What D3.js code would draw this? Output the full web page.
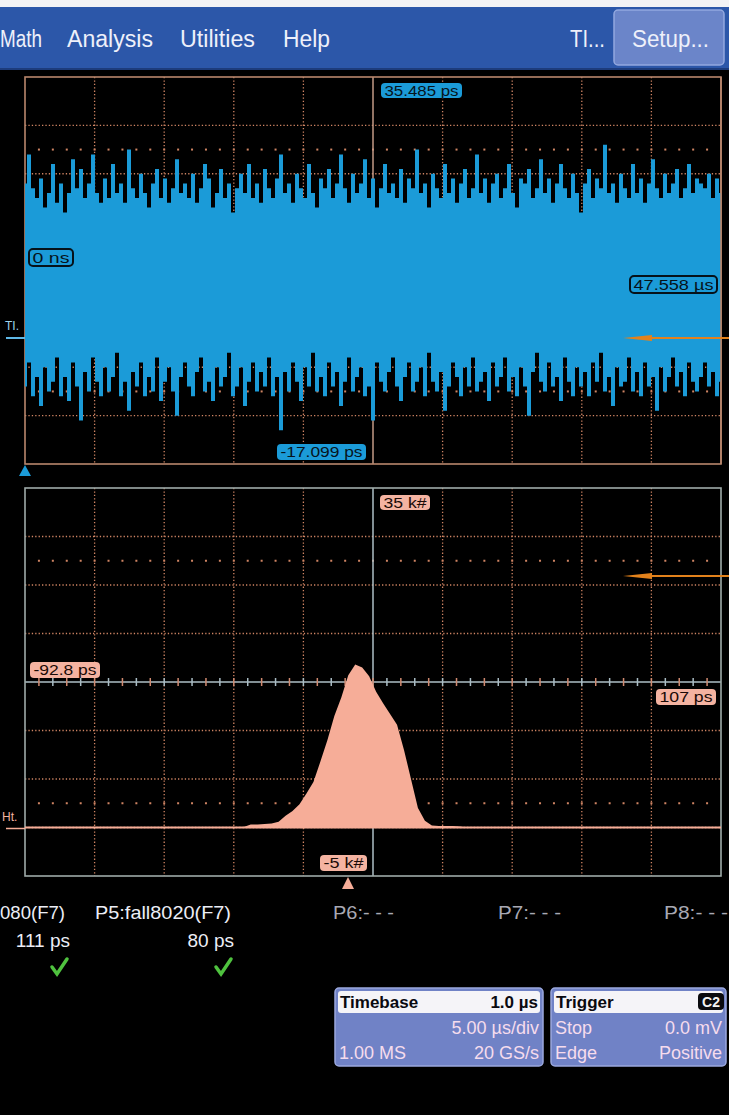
<!DOCTYPE html>
<html><head><meta charset="utf-8">
<script src="https://cdn.jsdelivr.net/npm/d3@7"></script>
<style>html,body{margin:0;padding:0;background:#000;overflow:hidden}svg{display:block}</style>
</head><body>
<svg id="c" width="729" height="1115"></svg>
<script>
// ---------- data ----------
const menuLabels = ["Math", "Analysis", "Utilities", "Help"];
const menuRight = ["TI...", "Setup..."];

// TIE track trace (units: 1/10 division), sampled across 10 divisions (5 µs/div)
const traceTop = [
 18,24,17,15,19,13,16,22,14,18, 12,16,23,17,21,15,18,24,16,14,
 19,15,22,16,18,14,25,17,15,20, 16,13,18,21,15,19,14,17,23,16,
 18,15,20,14,17,22,19,13,16,21, 15,18,12,17,20,16,22,15,18,14,
 21,17,15,19,24,16,18,14,20,17, 15,22,16,13,19,17,21,15,18,24,
 17,14,20,16,18,23,15,19,13,17, 22,16,18,15,21,14,19,17,25,16,
 18,13,20,17,15,22,16,19,14,18, 21,15,17,24,16,19,14,18,20,15,
 17,22,16,13,19,18,21,15,17,23, 16,19,14,18,22,17,15,20,16,12,
 18,21,15,19,17,26,16,18,14,20, 17,15,22,16,19,14,18,23,17,15,
 20,16,18,21,15,17,22,16,19,18, 17,20,15,19,16];
const traceBottom = [
 -24,-19,-26,-22,-28,-20,-25,-23,-18,-26, -22,-27,-19,-24,-31,-21,-25,-18,-23,-26,
 -20,-25,-22,-17,-26,-23,-29,-21,-24,-19, -26,-22,-25,-18,-27,-23,-20,-25,-30,-22,
 -19,-24,-26,-21,-18,-25,-23,-27,-20,-24, -22,-17,-26,-24,-20,-28,-23,-19,-25,-21,
 -24,-18,-26,-22,-33,-21,-25,-19,-23,-27, -20,-24,-17,-25,-22,-26,-19,-24,-21,-28,
 -23,-18,-25,-22,-20,-26,-24,-31,-19,-23, -25,-21,-18,-24,-27,-22,-19,-25,-23,-20,
 -26,-17,-23,-25,-21,-29,-24,-19,-22,-26, -20,-24,-18,-25,-23,-21,-27,-19,-24,-22,
 -18,-25,-22,-26,-20,-24,-30,-21,-17,-23, -25,-19,-24,-22,-27,-18,-23,-26,-20,-24,
 -21,-26,-19,-23,-17,-25,-22,-28,-20,-24, -23,-18,-25,-21,-26,-19,-24,-22,-29,-20,
 -25,-22,-18,-24,-21,-26,-19,-23,-25,-22, -19,-24,-21,-26,-23];

// histogram of TIE (bin centre in ps, count in k#)
const histPs    = [-32,-30,-28,-26,-24,-22,-20,-18,-16,-14,-12,-10,-8,-6,-4,-2,0,2,4,6,8,10,12,14,16,18,20,22,24,26,28,30,32,34];
const histCount = [0,0.05,0.3,0.3,0.35,0.4,0.6,1.2,1.7,2.4,3.5,4.7,6.8,9.0,11.5,13.4,15.7,16.8,16.5,15.6,14.0,12.8,11.7,10.6,8.0,5.0,2.0,0.7,0.2,0.15,0.15,0.15,0.1,0];

const topLabels = {upper: "35.485 ps", lower: "-17.099 ps", offset: "0 ns", delay: "47.558 µs", trace: "TI."};
const histLabels = {upper: "35 k#", lower: "-5 k#", left: "-92.8 ps", right: "107 ps", trace: "Ht."};

const measNames  = ["080(F7)", "P5:fall8020(F7)", "P6:- - -", "P7:- - -", "P8:- - -"];
const measValues = ["111 ps", "80 ps"];

const timebase = ["Timebase", "1.0 µs", "5.00 µs/div", "1.00 MS", "20 GS/s"];
const trigger  = ["Trigger", "C2", "Stop", "0.0 mV", "Edge", "Positive"];

// ---------- drawing ----------
const svg = d3.select("#c");
const F = "'Liberation Sans', Arial, sans-serif";
const BLUE = "#1b9bd8", PEACH = "#f6ad98", DOT = "#cf8463";

svg.append("rect").attr("width",729).attr("height",1115).attr("fill","#000");

// top white strip + menu bar
svg.append("rect").attr("x",0).attr("y",0).attr("width",729).attr("height",7).attr("fill","#f3f3f5");
svg.append("rect").attr("x",0).attr("y",7).attr("width",729).attr("height",63).attr("fill","#2c57a9");
svg.append("rect").attr("x",0).attr("y",68).attr("width",729).attr("height",2).attr("fill","#1d3c7c");
svg.append("rect").attr("x",614).attr("y",10).attr("width",110).attr("height",55).attr("rx",4)
  .attr("fill","#6b85c9").attr("stroke","#93a8df").attr("stroke-width",1.5);

const menuPos = [[0,42],[67,86],[180,75],[283,47]];
menuLabels.forEach((t,i)=>{
  svg.append("text").attr("x",menuPos[i][0]).attr("y",47).attr("textLength",menuPos[i][1])
    .attr("lengthAdjust","spacingAndGlyphs").attr("font-family",F).attr("font-size",23)
    .attr("fill","#eef0fa").text(t);
});
svg.append("text").attr("x",570).attr("y",47).attr("textLength",35).attr("lengthAdjust","spacingAndGlyphs")
  .attr("font-family",F).attr("font-size",23).attr("fill","#eef0fa").text(menuRight[0]);
svg.append("text").attr("x",632).attr("y",47).attr("textLength",77).attr("lengthAdjust","spacingAndGlyphs")
  .attr("font-family",F).attr("font-size",23).attr("fill","#eef0fa").text(menuRight[1]);

// ---------- common grid ----------
function grid(g, x, y, frameColor, centerColor, sparseVals, tickCenter) {
  const [x0,x1] = x.range(), [yb,yt] = y.range();
  const xd = x.domain(), yd = y.domain();
  const xs = d3.range(11).map(k => xd[0] + k*(xd[1]-xd[0])/10);
  const ys = d3.range(9).map(k => yd[0] + k*(yd[1]-yd[0])/8);
  const xc = xs[5], yc = ys[4];
  xs.slice(1,10).filter((d,i)=>i!==4).forEach(v=>{
    g.append("line").attr("x1",x(v)).attr("x2",x(v)).attr("y1",yt).attr("y2",yb)
      .attr("stroke",DOT).attr("stroke-width",1.3).attr("stroke-dasharray","1.3,2.1");
  });
  ys.slice(1,8).filter((d,i)=>i!==3).forEach(v=>{
    g.append("line").attr("x1",x0).attr("x2",x1).attr("y1",y(v)).attr("y2",y(v))
      .attr("stroke",DOT).attr("stroke-width",1.3).attr("stroke-dasharray","1.3,2.1");
  });
  const sub = d3.range(1,50).map(k => xd[0] + k*(xd[1]-xd[0])/50);
  sparseVals.forEach(v=>{
    sub.forEach(s=>{
      g.append("rect").attr("x",x(s)-1).attr("y",y(v)-1).attr("width",2).attr("height",2).attr("fill",DOT);
    });
  });
  g.append("line").attr("x1",x(xc)).attr("x2",x(xc)).attr("y1",yt).attr("y2",yb)
    .attr("stroke",centerColor).attr("stroke-width",1.5);
  g.append("line").attr("x1",x0).attr("x2",x1).attr("y1",y(yc)).attr("y2",y(yc))
    .attr("stroke",centerColor).attr("stroke-width",1.5);
  if (tickCenter) {
    sub.forEach((s,k)=>{
      g.append("line").attr("x1",x(s)).attr("x2",x(s)).attr("y1",y(yc)-4).attr("y2",y(yc)+4)
        .attr("stroke", k%2 ? "#a9bcc4" : "#d08a70").attr("stroke-width",1.5);
    });
  }
  g.append("rect").attr("x",x0).attr("y",yt).attr("width",x1-x0).attr("height",yb-yt)
    .attr("fill","none").attr("stroke",frameColor).attr("stroke-width",1.6);
}

function label(g, x, y, w, h, text, bg, fg, outline, fs) {
  g.append("rect").attr("x",x).attr("y",y).attr("width",w).attr("height",h).attr("rx",4)
    .attr("fill", outline ? "none" : bg).attr("stroke", outline ? "#06121a" : "none").attr("stroke-width",2);
  g.append("text").attr("x",x+w/2).attr("y",y+h/2+ (fs||13)*0.37).attr("text-anchor","middle")
    .attr("font-family",F).attr("font-size",fs||13).attr("fill",fg)
    .attr("textLength",w-7).attr("lengthAdjust","spacingAndGlyphs").text(text);
}

// ---------- top plot: TIE track ----------
const xT = d3.scaleLinear().domain([0,50]).range([25,721]);
const yT = d3.scaleLinear().domain([-40,40]).range([464,77]);
const gT = svg.append("g");
gT.append("clipPath").attr("id","clipT").append("rect").attr("x",25).attr("y",77).attr("width",696).attr("height",387);
grid(gT, xT, yT, "#b8866c", "#c39a86", [25,-25], false);

const tT = traceTop.map((d,i)=> i*50/(traceTop.length-1));
const area = d3.area().x((d,i)=>xT(tT[i])).y0((d,i)=>yT(traceBottom[i])).y1(d=>yT(d)).curve(d3.curveStep);
gT.append("path").attr("clip-path","url(#clipT)").attr("d", area(traceTop)).attr("fill",BLUE);
gT.append("line").attr("x1",721).attr("x2",721).attr("y1",77).attr("y2",464).attr("stroke","#b8866c").attr("stroke-width",1.6);

label(gT, 381, 83, 81, 15, topLabels.upper, BLUE, "#06141c", false, 14);
label(gT, 277, 444, 89, 16, topLabels.lower, BLUE, "#06141c", false, 14);
label(gT, 29, 249, 44, 17, topLabels.offset, BLUE, "#06141c", true, 14);
label(gT, 630, 276, 87, 17, topLabels.delay, BLUE, "#06141c", true, 14);

svg.append("text").attr("x",5).attr("y",330).attr("font-family",F).attr("font-size",12)
  .attr("fill","#9fd4ee").text(topLabels.trace);
svg.append("line").attr("x1",6).attr("x2",25).attr("y1",338).attr("y2",338).attr("stroke","#5fb8e6").attr("stroke-width",2);
svg.append("path").attr("d", d3.line()([[25,465],[19,476],[31,476]])+"Z").attr("fill",BLUE);

// ---------- lower plot: histogram ----------
const xH = d3.scaleLinear().domain([-92.8,107]).range([25,721]);
const yH = d3.scaleLinear().domain([-5,35]).range([876,488]);
const gH = svg.append("g");
grid(gH, xH, yH, "#9eaaa8", "#aebfc6", [27.5,2.5], true);

gH.append("line").attr("x1",25).attr("x2",721).attr("y1",yH(0)).attr("y2",yH(0)).attr("stroke",PEACH).attr("stroke-width",2);
const harea = d3.area().x((d,i)=>xH(histPs[i])).y0(yH(0)).y1(d=>yH(d)).curve(d3.curveLinear);
gH.append("path").attr("d", harea(histCount)).attr("fill",PEACH);

label(gH, 380, 495, 50, 15, histLabels.upper, "#f4b3a1", "#1a0a06", false, 14);
label(gH, 30, 662, 70, 16, histLabels.left, "#f4b3a1", "#1a0a06", false, 14);
label(gH, 656, 689, 60, 16, histLabels.right, "#f4b3a1", "#1a0a06", false, 14);
label(gH, 320, 855, 47, 16, histLabels.lower, "#f4b3a1", "#1a0a06", false, 14);
svg.append("path").attr("d", d3.line()([[348,877],[342,889],[354,889]])+"Z").attr("fill",PEACH);
svg.append("text").attr("x",2).attr("y",821).attr("font-family",F).attr("font-size",12)
  .attr("fill","#f3b3a0").text(histLabels.trace);
svg.append("line").attr("x1",6).attr("x2",25).attr("y1",yH(0)+1).attr("y2",yH(0)+1).attr("stroke",PEACH).attr("stroke-width",1.5);

// orange annotation arrows
[338, 576].forEach(y=>{
  svg.append("line").attr("x1",729).attr("x2",640).attr("y1",y).attr("y2",y).attr("stroke","#e3821c").attr("stroke-width",2);
  svg.append("path").attr("d", d3.line()([[623,y],[652,y-3],[652,y+3]])+"Z").attr("fill","#e3821c");
});

// ---------- measurements ----------
const measX = [[0,65,"#eceef6"],[95,136,"#eceef6"],[333,61,"#a8a9b4"],[498,63,"#a8a9b4"],[664,64,"#a8a9b4"]];
measNames.forEach((t,i)=>{
  svg.append("text").attr("x",measX[i][0]).attr("y",919).attr("textLength",measX[i][1])
    .attr("lengthAdjust","spacingAndGlyphs").attr("font-family",F).attr("font-size",19)
    .attr("fill",measX[i][2]).text(t);
});
[[70,60],[234,49]].forEach((p,i)=>{
  svg.append("text").attr("x",p[0]).attr("y",947).attr("text-anchor","end").attr("font-family",F)
    .attr("font-size",19).attr("fill","#eceef6").text(measValues[i]);
  const cx = p[0]-17;
  svg.append("path").attr("d", d3.line()([[cx-1,967],[cx+4,974],[cx+14,959]]))
    .attr("fill","none").attr("stroke","#4fc23f").attr("stroke-width",3.5).attr("stroke-linecap","round");
});

// ---------- timebase / trigger boxes ----------
function infoBox(x, w, head, headRight, rows, badge) {
  const g = svg.append("g");
  g.append("rect").attr("x",x).attr("y",988).attr("width",w).attr("height",78).attr("rx",4)
    .attr("fill","#7082c6").attr("stroke","#9aa8de").attr("stroke-width",1.5);
  g.append("rect").attr("x",x+3).attr("y",991).attr("width",w-6).attr("height",22).attr("rx",3).attr("fill","#f5f4f8");
  g.append("text").attr("x",x+5).attr("y",1008).attr("font-family",F).attr("font-weight","bold")
    .attr("font-size",17).attr("fill","#0a0a10").text(head);
  if (badge) {
    g.append("rect").attr("x",x+w-28).attr("y",993).attr("width",26).attr("height",17).attr("rx",4).attr("fill","#0b0b0f");
    g.append("text").attr("x",x+w-15).attr("y",1007).attr("text-anchor","middle").attr("font-family",F)
      .attr("font-weight","bold").attr("font-size",14).attr("fill","#f3f3f3").text(headRight);
  } else {
    g.append("text").attr("x",x+w-5).attr("y",1008).attr("text-anchor","end").attr("font-family",F)
      .attr("font-weight","bold").attr("font-size",17).attr("fill","#0a0a10").text(headRight);
  }
  rows.forEach((r,i)=>{
    const yy = 1034 + i*25;
    if (r[0]) g.append("text").attr("x",x+4).attr("y",yy).attr("font-family",F).attr("font-size",18).attr("fill","#f6dced").text(r[0]);
    g.append("text").attr("x",x+w-4).attr("y",yy).attr("text-anchor","end").attr("font-family",F).attr("font-size",18).attr("fill","#f6dced").text(r[1]);
  });
}
infoBox(335, 208, timebase[0], timebase[1], [["",timebase[2]],[timebase[3],timebase[4]]], false);
infoBox(551, 175, trigger[0], trigger[1], [[trigger[2],trigger[3]],[trigger[4],trigger[5]]], true);
</script>
</body></html>
